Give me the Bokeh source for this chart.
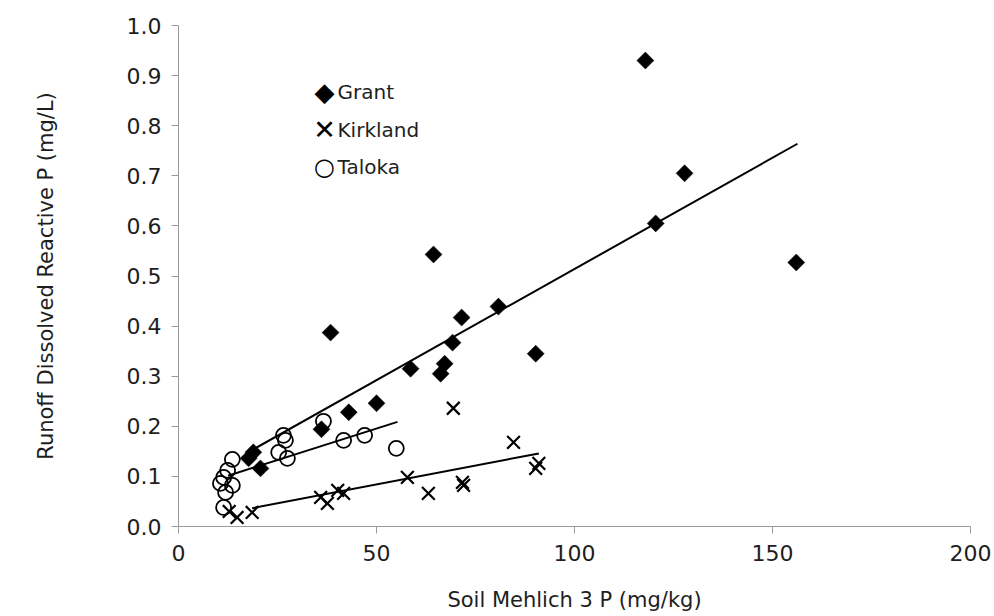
import numpy as np
from bokeh.plotting import figure
from bokeh.models import Range1d, Label, FixedTicker, CustomJSTickFormatter
from bokeh.embed import file_html
from bokeh.resources import INLINE

# ---- data ----
grant_x = [117.9, 127.8, 120.5, 156.0, 64.4, 38.4, 71.5, 80.8, 69.2, 67.2, 66.2,
           58.6, 90.2, 50.0, 43.0, 36.1, 18.9, 17.7, 20.7]
grant_y = [0.930, 0.705, 0.605, 0.527, 0.543, 0.387, 0.417, 0.439, 0.367, 0.325, 0.305,
           0.315, 0.345, 0.246, 0.228, 0.194, 0.148, 0.136, 0.116]

kirk_x = [12.8, 14.8, 18.6, 35.9, 37.6, 40.2, 41.7, 57.8, 63.1, 69.4, 84.6, 71.7, 72.0, 90.2, 91.0]
kirk_y = [0.030, 0.018, 0.028, 0.058, 0.046, 0.072, 0.066, 0.098, 0.066, 0.236, 0.168,
          0.088, 0.082, 0.116, 0.126]

tal_x = [13.6, 12.4, 11.4, 10.6, 13.6, 11.9, 11.4, 26.5, 27.0, 25.3, 27.5, 36.6, 41.7, 47.0, 55.0]
tal_y = [0.134, 0.112, 0.098, 0.086, 0.082, 0.068, 0.038, 0.182, 0.172, 0.148, 0.136,
         0.210, 0.172, 0.182, 0.156]

# linear trend lines (slope, intercept, x-range)
fit_names = ["Grant", "Kirkland", "Taloka"]
fit_slope = [0.00444, 0.00151, 0.00251]
fit_intercept = [0.070, 0.0085, 0.070]
fit_xmin = [17.5, 18.6, 12.5]
fit_xmax = [156.3, 91.0, 55.3]

series_names = ["Grant", "Kirkland", "Taloka"]
legend_symbols = ["\u25C6", "\u2715", "\u25CB"]

x_ticks = [0, 50, 100, 150, 200]
y_ticks = [0.0, 0.1, 0.2, 0.3, 0.4, 0.5, 0.6, 0.7, 0.8, 0.9, 1.0]

FONT = "DejaVu Sans"
TXT = "#1e1e1e"
AXC = "#9a9a9a"

FL, FR, FT, FB = 178, 24, 25, 90  # frame borders
p = figure(width=994, height=616, output_backend="svg", toolbar_location=None,
           x_range=Range1d(0, 200), y_range=Range1d(0, 1.0),
           min_border_left=FL, min_border_right=FR, min_border_top=FT, min_border_bottom=FB)
p.outline_line_color = None
p.grid.visible = False
p.background_fill_color = "white"
p.border_fill_color = "white"

for sl, ic, x0, x1 in zip(fit_slope, fit_intercept, fit_xmin, fit_xmax):
    xs = np.array([x0, x1])
    p.line(xs, ic + sl * xs, line_color="black", line_width=2)

p.scatter(grant_x, grant_y, marker="square", angle=np.pi / 4, size=12,
          fill_color="black", line_color="black", line_width=0.5)
p.scatter(kirk_x, kirk_y, marker="x", size=18, line_color="black", line_width=2.2)
p.scatter(tal_x, tal_y, marker="circle", size=15, fill_color=None,
          line_color="black", line_width=1.8)

for ax in (p.xaxis[0], p.yaxis[0]):
    ax.axis_line_color = AXC
    ax.major_tick_line_color = AXC
    ax.minor_tick_line_color = None
    ax.major_tick_out = 7
    ax.major_tick_in = 0
    ax.major_label_text_font = FONT
    ax.major_label_text_font_size = "22px"
    ax.major_label_text_color = TXT
    ax.axis_label_text_font = FONT
    ax.axis_label_text_font_size = "21px"
    ax.axis_label_text_font_style = "normal"
    ax.axis_label_text_color = TXT

p.xaxis.ticker = FixedTicker(ticks=x_ticks)
p.yaxis.ticker = FixedTicker(ticks=y_ticks)
p.yaxis.formatter = CustomJSTickFormatter(code="return tick.toFixed(1);")
p.xaxis.axis_label = "Soil Mehlich 3 P (mg/kg)"
p.yaxis.axis_label = "Runoff Dissolved Reactive P (mg/L)"
p.xaxis.major_label_standoff = 11
p.yaxis.major_label_standoff = 10
p.xaxis.axis_label_standoff = 24
p.yaxis.axis_label_standoff = 66

# legend (screen units, relative to the frame's bottom-left corner)
sym_x = 324 - FL
txt_x = 337 - FL
row_y = [91, 129, 166]
sym_sizes = ["26px", "27px", "24px"]
for name, sym, ry, ss in zip(series_names, legend_symbols, row_y, sym_sizes):
    yy = (616 - FB) - ry
    p.add_layout(Label(x=sym_x, y=yy, x_units="screen", y_units="screen", text=sym,
                       text_font=FONT, text_font_size=ss, text_color="black",
                       text_align="center", text_baseline="middle"))
    p.add_layout(Label(x=txt_x, y=yy, x_units="screen", y_units="screen", text=name,
                       text_font=FONT, text_font_size="20px", text_color=TXT,
                       text_align="left", text_baseline="middle"))

open("out.html", "w").write(file_html(p, INLINE))
